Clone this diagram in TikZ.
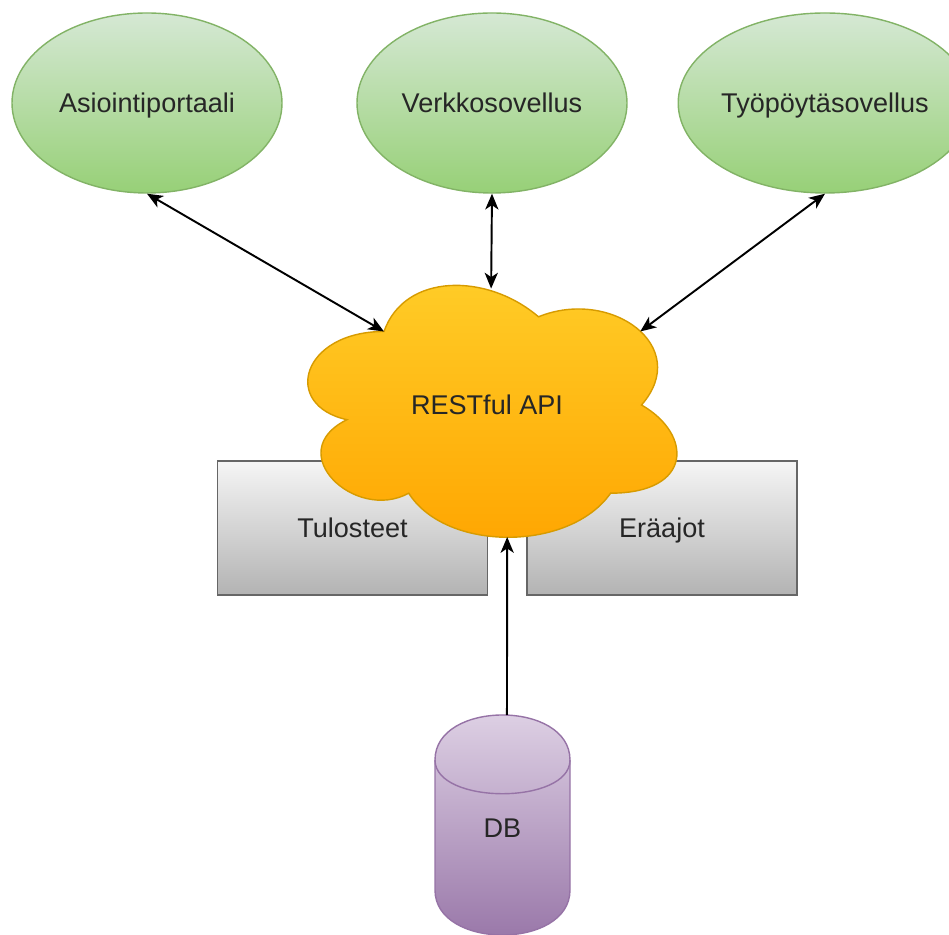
\documentclass[tikz,border=0pt]{standalone}
\usepackage{fontspec}
\setmainfont{Liberation Sans}
\usetikzlibrary{shapes.geometric,arrows.meta}

\definecolor{greentop}{HTML}{D5E8D4}
\definecolor{greenbot}{HTML}{97D077}
\definecolor{greenline}{HTML}{82B366}
\definecolor{orangetop}{HTML}{FFCD28}
\definecolor{orangebot}{HTML}{FFA500}
\definecolor{orangeline}{HTML}{D79B00}
\definecolor{graytop}{HTML}{F5F5F5}
\definecolor{graybot}{HTML}{B3B3B3}
\definecolor{grayline}{HTML}{666666}
\definecolor{purpletop}{HTML}{E1D5E7}
\definecolor{purplebot}{HTML}{9673A6}

\begin{document}
\begin{tikzpicture}
	% Define styles for the nodes and arrows
	\tikzset{
		txt/.style={font=\fontsize{15.4}{18}\selectfont, text=black!85, text height=11pt, text depth=0pt},
		client/.style={ellipse, draw=greenline, line width=0.8pt, top color=greentop, bottom color=greenbot, minimum width=5.4cm, minimum height=3.6cm, inner sep=0pt, txt},
		block/.style={rectangle, draw=grayline, line width=1.1pt, top color=graytop, bottom color=graybot, minimum width=5.4cm, minimum height=2.68cm, inner sep=0pt, txt},
		link/.style={{Stealth[length=9pt,width=7.5pt,inset=2.5pt]}-{Stealth[length=9pt,width=7.5pt,inset=2.5pt]}, line width=1.1pt},
		feed/.style={-{Stealth[length=9pt,width=7.5pt,inset=2.5pt]}, line width=1.1pt}
	}
	\useasboundingbox (0,0) rectangle (18.98,18.7);
	
	% Draw the clients on top
	\node[client] (asio) at (2.94,16.64) {Asiointiportaali};
	\node[client] (verkko) at (9.84,16.64) {Verkkosovellus};
	\node[client] (tyo) at (16.5,16.64) {Työpöytäsovellus};
	
	% Draw the boxes behind the cloud
	\node[block] (tulosteet) at (7.05,8.14) {Tulosteet};
	\node[block] (eraajot) at (13.24,8.14) {Eräajot};
	
	% Draw the cloud in its own unit box
	\begin{scope}[shift={(5.62,13.54)}, x=8.24cm, y=-5.88cm]
		\draw[draw=orangeline, line width=0.8pt, top color=orangetop, bottom color=orangebot]
			(0.25,0.25) .. controls (0.05,0.25) and (0,0.5) .. (0.16,0.55)
			.. controls (0,0.66) and (0.18,0.9) .. (0.31,0.8)
			.. controls (0.4,1) and (0.7,1) .. (0.8,0.8)
			.. controls (1,0.8) and (1,0.6) .. (0.875,0.5)
			.. controls (1,0.3) and (0.8,0.1) .. (0.625,0.2)
			.. controls (0.5,0.05) and (0.3,0.05) .. (0.25,0.25) -- cycle;
		\coordinate (apiwest) at (0.25,0.25);
		\coordinate (apitop) at (0.51,0.104);
		\coordinate (apieast) at (0.872,0.25);
		\coordinate (apibot) at (0.549,0.949);
	\end{scope}
	\node[txt] (api) at (9.74,10.6) {RESTful API};
	
	% Draw the database cylinder
	\begin{scope}[shift={(8.7,4.4)}, x=2.7cm, y=-4.4cm]
		\draw[draw=purplebot, line width=0.8pt, top color=purpletop, bottom color=purplebot]
			(0,0.2045) .. controls (0,-0.0682) and (1,-0.0682) .. (1,0.2045)
			-- (1,0.7955) .. controls (1,1.0682) and (0,1.0682) .. (0,0.7955) -- cycle;
		\draw[draw=purplebot, line width=0.8pt]
			(0,0.2045) .. controls (0,0.409) and (1,0.409) .. (1,0.2045);
		\coordinate (dbtop) at (0.533,0);
	\end{scope}
	\node[txt] (db) at (10.05,2.14) {DB};
	
	% Connect everything to the API
	\draw[link] (asio.south) -- (apiwest);
	\draw[link] (verkko.south) -- (apitop);
	\draw[link] (tyo.south) -- (apieast);
	\draw[feed] (dbtop) -- (apibot);
\end{tikzpicture}
\end{document}
